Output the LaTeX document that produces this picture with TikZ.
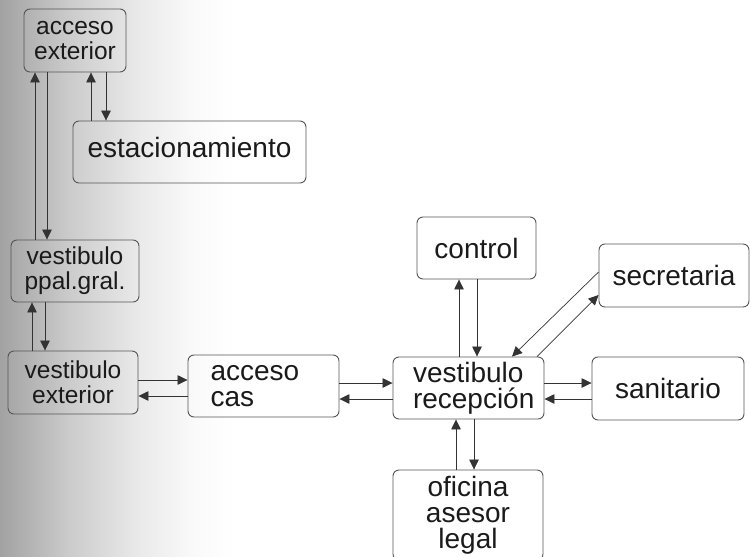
\documentclass[tikz,border=0pt]{standalone}
\usepackage{fontspec}
\setmainfont{Liberation Sans}
\usetikzlibrary{arrows.meta,calc}
\definecolor{ink}{HTML}{1A1A1A}
\definecolor{frame}{HTML}{555555}
\definecolor{wire}{HTML}{333333}
\definecolor{scan}{HTML}{A2A2A2}
\pgfdeclarehorizontalshading{scanfade}{100bp}{color(0bp)=(scan); color(25bp)=(scan);
  color(40bp)=(scan!55!white); color(55bp)=(scan!22!white); color(66bp)=(scan!6!white);
  color(75bp)=(white); color(100bp)=(white)}
\tikzset{
  room/.style={draw=frame,line width=0.9pt,rounded corners=6pt,text=ink,align=center,inner sep=0pt,
    font=\fontsize{28}{26}\selectfont},
  smallroom/.style={room,font=\fontsize{24.5}{25}\selectfont},
  arr/.style={-{Triangle[length=10pt,width=9.5pt]},line width=0.7pt,draw=wire}
}

\begin{document}
\begin{tikzpicture}[x=1pt,y=-1pt]
        \useasboundingbox (0,0) rectangle (750,557);
        \clip (0,0) rectangle (750,557);
        \shade[shading=scanfade] (0,0) rectangle (235,557);

        % rooms
        \node[smallroom,minimum width=102pt,minimum height=63pt] (ae) at (75,40.5) {acceso\\exterior};
        \node[room,minimum width=233pt,minimum height=62pt,text depth=10pt] (est) at (189.5,152) {estacionamiento};
        \node[smallroom,minimum width=128pt,minimum height=62pt] (vp) at (75,271) {vestibulo\\ppal.gral.};
        \node[smallroom,minimum width=130pt,minimum height=63pt] (ve) at (73,382.5) {vestibulo\\exterior};
        \node[room,align=left,text width=106pt,minimum width=151pt,minimum height=62pt] (ac) at (263.5,386) {acceso\\cas};
        \node[room,minimum width=119pt,minimum height=62pt] (ctl) at (476.5,248) {control};
        \node[room,minimum width=150pt,minimum height=63pt] (sec) at (674,275.5) {secretaria};
        \node[room,align=left,text width=111pt,minimum width=151pt,minimum height=62pt] (vr) at (468.5,388) {vestibulo\\recepción};
        \node[room,minimum width=152pt,minimum height=63pt] (san) at (668,388.5) {sanitario};
        \node[room,minimum width=150pt,minimum height=90pt] (of) at (468,515) {oficina\\asesor\\legal};

        % left column
        \draw[arr] ([xshift=-40pt]vp.north) -- ([xshift=-40pt]ae.south);
        \draw[arr] ([xshift=-28pt]ae.south) -- ([xshift=-28pt]vp.north);
        \draw[arr] ([xshift=-98.5pt]est.north) -- ([xshift=-98.5pt]est.north |- ae.south);
        \draw[arr] ([xshift=31pt]ae.south) -- ([xshift=31pt]ae.south |- est.north);
        \draw[arr] ([xshift=-41pt]ve.north) -- ([xshift=-41pt]ve.north |- vp.south);
        \draw[arr] ([xshift=-30pt]vp.south) -- ([xshift=-30pt]vp.south |- ve.north);

        % bottom row
        \draw[arr] ([yshift=6pt]ac.west -| ve.east) -- ([yshift=6pt]ac.west);
        \draw[arr] ([yshift=-10pt]ac.west) -- ([yshift=-10pt]ac.west -| ve.east);
        \draw[arr] ([yshift=5pt]vr.west -| ac.east) -- ([yshift=5pt]vr.west);
        \draw[arr] ([yshift=-11pt]vr.west) -- ([yshift=-11pt]vr.west -| ac.east);
        \draw[arr] ([yshift=5pt]vr.east) -- ([yshift=5pt]vr.east -| san.west);
        \draw[arr] ([yshift=-11pt]vr.east -| san.west) -- ([yshift=-11pt]vr.east);

        % around the reception
        \draw[arr] ([xshift=-9.5pt]vr.north) -- ([xshift=-9.5pt]vr.north |- ctl.south);
        \draw[arr] ([xshift=8.5pt]vr.north |- ctl.south) -- ([xshift=8.5pt]vr.north);
        \draw[arr] ([yshift=3.5pt]sec.west) -- ([xshift=43.5pt]vr.north);
        \draw[arr] ([xshift=68.5pt]vr.north) -- ([yshift=-19.5pt]sec.west);
        \draw[arr] ([xshift=-12pt]of.north) -- ([xshift=-12pt]of.north |- vr.south);
        \draw[arr] ([xshift=6pt]of.north |- vr.south) -- ([xshift=6pt]of.north);
      \end{tikzpicture}
\end{document}
